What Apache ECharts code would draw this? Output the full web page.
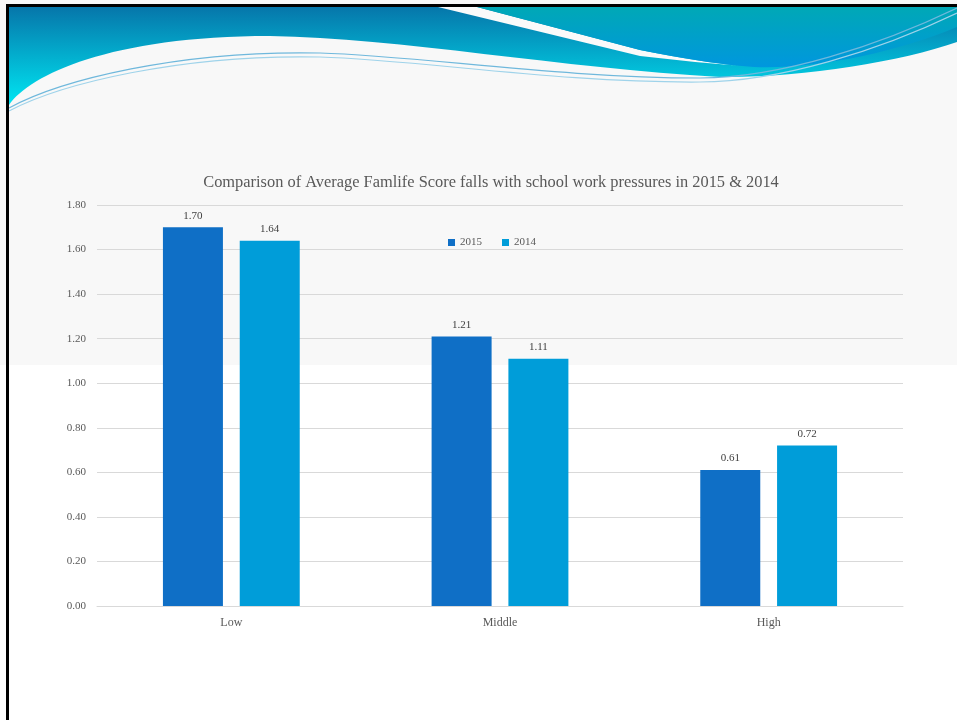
<!DOCTYPE html>
<html>
<head>
<meta charset="utf-8">
<script src="https://cdn.jsdelivr.net/npm/echarts@6/dist/echarts.min.js"></script>
<style>
  html, body { margin: 0; padding: 0; }
  #chart { width: 957px; height: 720px; background: linear-gradient(#f8f8f8 0, #f8f8f8 365px, #ffffff 365px); }
</style>
</head>
<body>
<div id="chart"></div>
<script>
const categories = ['Low', 'Middle', 'High'];
const series2015 = [1.70, 1.21, 0.61];
const series2014 = [1.64, 1.11, 0.72];
const seriesNames = ['2015', '2014'];
const titleText = 'Comparison of Average Famlife Score falls with school work pressures in 2015 & 2014';

const FONT = '"Liberation Serif", "DejaVu Serif", serif';

// decorative slide header shapes
const headerPaths = {
  hdrMain: 'M9,7 L957,7 L957,42 C900,62 800,78 720,77 C560,68 400,38 270,36 C110,36 30,75 9,105 Z',
  hdrWedge: 'M438,7 L477,7 L640,50 Q700,62 742,66 Q690,62 640,56 Z',
  hdrRight: 'M477,7 L957,7 L957,27 C890,55 800,72 742,66 Q700,62 640,50 Z',
  hdrLineA: 'M9,108 C60,80 180,50 320,53 C420,56 560,78 700,78 C780,78 880,45 957,8',
  hdrLineB: 'M9,111 C60,84 180,54 320,57 C420,60 560,83 700,82 C780,82 880,50 957,13'
};
Object.keys(headerPaths).forEach(k => {
  echarts.graphic.registerShape(k, echarts.graphic.extendPath(headerPaths[k], {}));
});

const chart = echarts.init(document.getElementById('chart'));

const option = {
  animation: false,
  textStyle: { fontFamily: FONT },
  title: {
    text: titleText,
    left: 486,
    textAlign: 'center',
    top: 170,
    textStyle: { fontFamily: FONT, fontSize: 16.4, fontWeight: 'normal', color: '#595959' }
  },
  legend: {
    data: seriesNames,
    left: 443,
    top: 232,
    itemWidth: 7,
    itemHeight: 7,
    itemGap: 20,
    icon: 'rect',
    textStyle: { fontFamily: FONT, fontSize: 11, color: '#595959' }
  },
  grid: { left: 97, right: 54, top: 205, bottom: 114, containLabel: false },
  xAxis: {
    type: 'category',
    data: categories,
    axisLine: { lineStyle: { color: '#d9d9d9' } },
    axisTick: { show: false },
    axisLabel: { fontFamily: FONT, fontSize: 12, color: '#595959', margin: 11 }
  },
  yAxis: {
    type: 'value',
    min: 0,
    max: 1.8,
    interval: 0.2,
    axisLine: { show: false },
    axisTick: { show: false },
    splitLine: { lineStyle: { color: '#d9d9d9' } },
    axisLabel: {
      fontFamily: FONT, fontSize: 11, color: '#595959', margin: 11,
      formatter: v => v.toFixed(2)
    }
  },
  series: [
    {
      name: seriesNames[0], type: 'bar', data: series2015,
      barWidth: 60, barGap: '28%',
      itemStyle: { color: '#0f6fc6' },
      label: { show: true, position: 'top', distance: 6, fontFamily: FONT, fontSize: 11, color: '#404040', formatter: p => p.value.toFixed(2) }
    },
    {
      name: seriesNames[1], type: 'bar', data: series2014,
      barWidth: 60, barGap: '28%',
      itemStyle: { color: '#009dd9' },
      label: { show: true, position: 'top', distance: 6, fontFamily: FONT, fontSize: 11, color: '#404040', formatter: p => p.value.toFixed(2) }
    }
  ],
  graphic: [
    {
      type: 'hdrMain', silent: true, z: 1,
      style: { fill: new echarts.graphic.LinearGradient(0, 0, 0, 1, [
        { offset: 0, color: '#0676aa' }, { offset: 1, color: '#00e6f2' }
      ]) }
    },
    { type: 'hdrWedge', silent: true, z: 2, style: { fill: '#fafafa' } },
    {
      type: 'hdrRight', silent: true, z: 2,
      style: { fill: new echarts.graphic.LinearGradient(0, 0, 0, 1, [
        { offset: 0, color: '#00a8b6' }, { offset: 1, color: '#0097de' }
      ]) }
    },
    { type: 'hdrLineA', silent: true, z: 3, style: { fill: null, stroke: '#6fb8dc', lineWidth: 1.2 } },
    { type: 'hdrLineB', silent: true, z: 3, style: { fill: null, stroke: '#9fd3ea', lineWidth: 1.2 } },
    {
      type: 'rect', silent: true, z: 4,
      shape: { x: 6, y: 4, width: 951, height: 3 },
      style: { fill: '#000000' }
    },
    {
      type: 'rect', silent: true, z: 4,
      shape: { x: 6, y: 4, width: 3, height: 716 },
      style: { fill: '#000000' }
    }
  ]
};
chart.setOption(option);
</script>
</body>
</html>
